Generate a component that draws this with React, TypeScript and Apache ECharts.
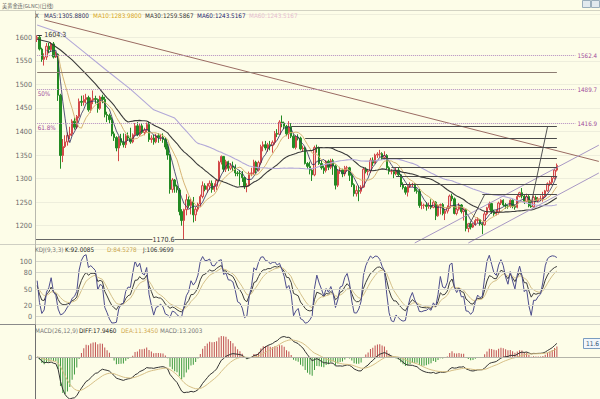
import React, { useEffect, useRef } from "react";
import * as echarts from "echarts";

// Daily candles [open, close, low, high]
const ohlc: number[][] = [
  // Apr
  [1597,1600,1590,1604.3],[1600,1575,1572,1603],[1575,1553,1548,1578],[1553,1558,1540,1566],[1558,1581,1552,1588],
  [1581,1574,1566,1588],[1574,1586,1570,1590],[1586,1558,1555,1590],[1558,1564,1556,1570],[1564,1477,1465,1566],
  [1477,1349,1321,1480],[1349,1368,1335,1384],[1368,1378,1365,1392],[1378,1392,1370,1398],[1392,1395,1384,1410],
  [1395,1422,1390,1426],[1422,1409,1404,1430],[1409,1432,1405,1435],[1432,1464,1428,1470],[1464,1462,1454,1476],
  [1462,1468,1455,1477],[1468,1472,1460,1480],
  // May
  [1472,1446,1442,1476],[1446,1467,1440,1472],[1467,1470,1458,1487],[1470,1468,1459,1476],[1468,1449,1440,1470],
  [1449,1473,1446,1476],[1473,1468,1460,1478],[1468,1436,1430,1474],[1436,1434,1420,1442],[1434,1425,1418,1438],
  [1425,1395,1390,1430],[1395,1387,1380,1400],[1387,1365,1358,1390],[1365,1385,1337,1390],[1385,1377,1370,1395],
  [1377,1372,1366,1396],[1372,1391,1365,1395],[1391,1386,1380,1398],[1386,1378,1374,1408],[1378,1393,1375,1396],
  [1393,1412,1390,1418],[1412,1393,1390,1420],
  // Jun
  [1393,1412,1390,1416],[1412,1398,1395,1418],[1398,1403,1392,1408],[1403,1415,1398,1419],[1415,1383,1378,1421],
  [1383,1386,1376,1392],[1386,1378,1372,1393],[1378,1391,1375,1395],[1391,1387,1376,1396],[1387,1388,1380,1394],
  [1388,1383,1376,1396],[1383,1367,1362,1388],[1367,1350,1340,1374],[1350,1277,1268,1352],[1277,1297,1270,1301],
  [1297,1284,1270,1299],[1284,1276,1270,1287],[1276,1230,1222,1280],[1230,1211,1200,1235],[1211,1234,1170.6,1236],
  // Jul
  [1234,1255,1222,1267],[1255,1243,1238,1262],[1243,1251,1224,1258],[1251,1223,1207,1261],[1223,1235,1210,1240],
  [1235,1246,1230,1249],[1246,1262,1240,1266],[1262,1285,1258,1294],[1285,1277,1273,1290],[1277,1284,1270,1290],
  [1284,1290,1276,1296],[1290,1277,1270,1296],[1277,1284,1272,1290],[1284,1296,1276,1299],[1296,1335,1294,1338],
  [1335,1347,1330,1349],[1347,1320,1314,1348],[1320,1336,1314,1340],[1336,1322,1316,1338],[1322,1327,1318,1333],
  [1327,1324,1316,1336],[1324,1312,1305,1330],
  // Aug
  [1312,1311,1305,1316],[1311,1310,1285,1317],[1310,1302,1293,1316],[1302,1283,1278,1304],[1283,1285,1271,1290],
  [1285,1311,1283,1315],[1311,1312,1305,1323],[1312,1335,1308,1340],[1335,1318,1311,1338],[1318,1334,1315,1338],
  [1334,1368,1330,1372],[1368,1372,1358,1379],[1372,1365,1360,1380],[1365,1372,1357,1376],[1372,1370,1360,1380],
  [1370,1377,1355,1381],[1377,1396,1372,1401],[1396,1394,1388,1405],[1394,1420,1393,1424],[1420,1418,1409,1434],
  [1418,1411,1405,1421],[1411,1395,1390,1414],
  // Sep
  [1395,1410,1384,1422],[1410,1390,1386,1418],[1390,1366,1364,1394],[1366,1388,1362,1392],[1388,1386,1381,1394],
  [1386,1363,1360,1389],[1363,1365,1358,1370],[1365,1332,1330,1368],[1332,1326,1321,1335],[1326,1318,1309,1336],
  [1318,1308,1295,1320],[1308,1366,1305,1370],[1366,1365,1355,1372],[1365,1332,1329,1368],[1332,1323,1319,1338],
  [1323,1317,1310,1328],[1317,1337,1313,1339],[1337,1324,1318,1340],[1324,1338,1320,1342],[1338,1327,1308,1342],
  // Oct
  [1327,1286,1277,1330],[1286,1316,1282,1320],[1316,1318,1310,1325],[1318,1310,1303,1321],[1310,1323,1305,1327],
  [1323,1323,1315,1327],[1323,1307,1295,1325],[1307,1287,1282,1310],[1287,1268,1262,1290],[1268,1275,1262,1285],
  [1275,1273,1252,1285],[1273,1282,1268,1286],[1282,1320,1280,1324],[1320,1315,1311,1324],[1315,1316,1307,1320],
  [1316,1339,1312,1344],[1339,1333,1327,1345],[1333,1350,1332,1353],[1350,1352,1344,1356],[1352,1353,1346,1361],
  [1353,1345,1340,1356],[1345,1349,1340,1358],[1349,1323,1320,1352],
  // Nov
  [1323,1315,1309,1326],[1315,1315,1309,1320],[1315,1310,1301,1318],[1310,1318,1307,1323],[1318,1308,1304,1324],
  [1308,1287,1282,1310],[1287,1281,1277,1292],[1281,1271,1266,1284],[1271,1283,1262,1286],[1283,1287,1280,1292],
  [1287,1288,1282,1291],[1288,1274,1272,1290],[1274,1273,1268,1279],[1273,1243,1238,1278],[1243,1243,1235,1251],
  [1243,1244,1236,1247],[1244,1241,1232,1250],[1241,1243,1236,1249],[1243,1239,1235,1256],[1239,1250,1237,1254],
  // Dec
  [1250,1221,1212,1252],[1221,1243,1219,1245],[1243,1245,1224,1247],[1245,1226,1222,1248],[1226,1231,1212,1236],
  [1231,1238,1226,1243],[1238,1263,1236,1266],[1263,1257,1252,1268],[1257,1226,1224,1260],[1226,1235,1222,1241],
  [1235,1244,1232,1248],[1244,1230,1226,1246],[1230,1235,1211,1237],[1235,1194,1188,1236],[1194,1204,1186,1206],
  [1204,1197,1192,1209],[1197,1202,1195,1206],[1202,1211,1200,1215],[1211,1213,1206,1218],[1213,1204,1200,1214],
  [1204,1202,1182,1206],
  // Jan
  [1202,1225,1200,1230],[1225,1238,1222,1240],[1238,1247,1233,1251],[1247,1230,1225,1248],[1230,1225,1221,1234],
  [1225,1229,1222,1234],[1229,1248,1224,1251],[1248,1254,1244,1256],[1254,1244,1241,1256],[1244,1242,1236,1248],
  [1242,1241,1236,1244],[1241,1254,1238,1256],[1254,1241,1237,1256],[1241,1239,1234,1245],[1239,1262,1237,1266],
  [1262,1270,1260,1272],[1270,1263,1258,1280],[1263,1251,1246,1265],[1251,1262,1250,1268],[1262,1242,1239,1265],
  [1242,1240,1238,1255],
  // Feb
  [1240,1260,1238,1264],[1260,1253,1250,1264],[1253,1257,1250,1261],[1257,1257,1252,1264],[1257,1262,1251,1272],
  [1262,1274,1260,1276],[1274,1289,1272,1292],[1289,1292,1284,1296],[1292,1301,1286,1304],[1301,1318,1298,1321],
  [1318,1328,1315,1332],
];

const TOTAL_SLOTS = 242;

// early part of slow averages: [index, value]
const ma30Lead: number[][] = [[0,1596],[5,1590],[10,1573],[15,1552],[20,1527],[25,1501]];
const ma60Lead: number[][] = [[0,1626],[10,1609],[20,1569],[30,1529],[40,1490],[50,1446]];

const fibLevels = [1562.4, 1489.7, 1416.9];
const fibNames = ["", "50%", "61.8%"];
const highLabel = 1604.3;
const lowLabel = 1170.6;
const baseLevel = 1525.7;
// horizontal levels: [start index, price]
const levelLines: number[][] = [[109,1412],[115,1385.6],[125,1366.4],[148,1343],[152,1325],[154,1306],[156,1288],[191,1267]];
// trend lines: [x1, y1, x2, y2]
const trendDown: number[] = [3, 1637, 241, 1336.5];
const channelUp: number[] = [162, 1163.3, 241, 1371];
const channelLow: number[] = [185, 1163.3, 241, 1311.9];
const steepA: number[] = [212, 1247.5, 219, 1410];
const steepB: number[] = [185, 1198, 192, 1266];

const maLegend = [
  { t: "X", x: 35, c: "#333333" },
  { t: "MA5:1305.8800", x: 44, c: "#2b2b60" },
  { t: "MA10:1283.9800", x: 93, c: "#d9a520" },
  { t: "MA30:1259.5867", x: 145, c: "#333333" },
  { t: "MA60:1243.5167", x: 197, c: "#23236e" },
  { t: "MA60:1243.5167", x: 249, c: "#e6bccf" },
];
const kdjLegend = [
  { t: "KDJ(9,3,3)", x: 35, c: "#777777" },
  { t: "K:92.0085", x: 65, c: "#222222" },
  { t: "D:84.5278", x: 107, c: "#caa64e" },
  { t: "J:106.9699", x: 143, c: "#333333" },
];
const macdLegend = [
  { t: "MACD(26,12,9)", x: 35, c: "#777777" },
  { t: "DIFF:17.9460", x: 79, c: "#222222" },
  { t: "DEA:11.3450", x: 121, c: "#d0a850" },
  { t: "MACD:13.2003", x: 160, c: "#777777" },
];

const BG = "#fdfde8";
const FONT = '"Liberation Sans Narrow", "DejaVu Sans Condensed", sans-serif';
const SMALL = 6.3;

function sma(closes: number[], n: number): (number | null)[] {
  return closes.map((_, i) => {
    if (i < n - 1) return null;
    let s = 0;
    for (let k = i - n + 1; k <= i; k++) s += closes[k];
    return s / n;
  });
}

export default function App() {
  const ref = useRef<HTMLDivElement>(null);
  useEffect(() => {
    if (!ref.current) return;
    const chart = echarts.init(ref.current, undefined, { renderer: "svg" });
    const closes = ohlc.map((r) => r[1]);
    const cats = Array.from({ length: TOTAL_SLOTS }, (_, i) => String(i));
    const ma5 = sma(closes, 5);
    const ma10 = sma(closes, 10);
    const ma30 = sma(closes, 30);
    const ma60 = sma(closes, 60);
    ma30Lead.forEach(([i, v]) => (ma30[i] = v));
    ma60Lead.forEach(([i, v]) => (ma60[i] = v));

    // KDJ(9,3,3)
    const K: number[] = [], D: number[] = [], J: number[] = [];
    let k = 50, d = 50;
    ohlc.forEach((r, i) => {
      let lo = Infinity, hi = -Infinity;
      for (let q = Math.max(0, i - 8); q <= i; q++) {
        lo = Math.min(lo, ohlc[q][2]);
        hi = Math.max(hi, ohlc[q][3]);
      }
      const rsv = hi === lo ? 50 : ((r[1] - lo) / (hi - lo)) * 100;
      k = (2 * k + rsv) / 3;
      d = (2 * d + k) / 3;
      K.push(k); D.push(d); J.push(3 * k - 2 * d);
    });
    // MACD(26,12,9)
    const DIF: number[] = [], DEA: number[] = [], HIST: number[] = [];
    let e12 = closes[0], e26 = closes[0], dea = 0;
    closes.forEach((c) => {
      e12 = (e12 * 11 + c * 2) / 13;
      e26 = (e26 * 25 + c * 2) / 27;
      const dif = e12 - e26;
      dea = (dea * 8 + dif * 2) / 10;
      DIF.push(dif); DEA.push(dea); HIST.push(2 * (dif - dea));
    });

    const seg = (a: number[], color: string, name: string) => ({
      type: "line", name, xAxisIndex: 0, yAxisIndex: 0, symbol: "none",
      data: [[a[0], a[1]], [a[2], a[3]]],
      lineStyle: { color, width: 1 }, silent: true, z: 4,
    });

    const lastIdx = ohlc.length - 1;
    const noLine = { symbol: ["none", "none"], silent: true, label: { show: false } };

    const txt = (t: string, x: number, y: number, c: string, size = SMALL, fam = FONT) => ({
      type: "text", x, y, z: 100, silent: true,
      style: { text: t, fill: c, fontSize: size, fontFamily: fam, verticalAlign: "middle", align: "left" },
    });
    const ln = (x1: number, y1: number, x2: number, y2: number, c: string) => ({
      type: "line", z: 90, silent: true, shape: { x1, y1, x2, y2 }, style: { stroke: c, lineWidth: 1 },
    });

    const graphic: any[] = [
      ln(0, 10.5, 600, 10.5, "#d2d2c2"),
      ln(0, 244.5, 600, 244.5, "#cfcfc3"),
      ln(0, 324.5, 600, 324.5, "#d6d6ca"),
      ln(0, 324.5, 35.5, 324.5, "#8a8a8a"),
      ln(35.5, 10.5, 35.5, 324.5, "#b8b8ae"),
      ln(35.5, 324.5, 35.5, 399, "#707070"),
      txt("美黄金连(GLNC)(日线)", 2, 5, "#666666", 5.2, '"Noto Sans CJK SC", sans-serif'),
      { type: "rect", z: 100, shape: { x: 582.5, y: 0.5, width: 8, height: 7 }, style: { fill: "#e2eaee", stroke: "#9aaebb" } },
      { type: "rect", z: 100, shape: { x: 591.5, y: 0.5, width: 8, height: 7 }, style: { fill: "#e2eaee", stroke: "#9aaebb" } },
      { type: "rect", z: 100, shape: { x: 583.5, y: 338.5, width: 20, height: 10 }, style: { fill: "#f2f6fa", stroke: "#7a9cc0" } },
      txt("11.6", 586, 343.5, "#335577", 6.5),
      ...maLegend.map((m) => txt(m.t, m.x, 15.5, m.c)),
      ...kdjLegend.map((m) => txt(m.t, m.x, 249.5, m.c)),
      ...macdLegend.map((m) => txt(m.t, m.x, 330, m.c)),
    ];

    const axisLabelBase = { fontSize: 7.2, color: "#6a6a6a", fontFamily: FONT, margin: 4 };

    chart.setOption({
      animation: false,
      backgroundColor: BG,
      graphic,
      grid: [
        { left: 36, right: 0, top: 13.75, height: 235.5 },
        { left: 36, right: 0, top: 250.7, height: 74.25 },
        { left: 36, right: 0, top: 336, height: 63 },
      ],
      xAxis: [0, 1, 2].map((g) => ({
        type: "category", gridIndex: g, data: cats, boundaryGap: true, show: false,
      })),
      yAxis: [
        {
          type: "value", gridIndex: 0, min: 1150, max: 1650, interval: 50,
          axisLine: { show: false }, axisTick: { show: false },
          splitLine: { show: true, lineStyle: { color: "#eeeedc", width: 1 } },
          axisLabel: { ...axisLabelBase, formatter: (v: number) => (v <= 1150 || v >= 1650 ? "" : String(v)) },
        },
        {
          type: "value", gridIndex: 1, min: -15, max: 120, interval: 5,
          axisLine: { show: false }, axisTick: { show: false }, splitLine: { show: false },
          axisLabel: { ...axisLabelBase, formatter: (v: number) => ([0, 20, 50, 80, 100].includes(v) ? String(v) : "") },
        },
        {
          type: "value", gridIndex: 2, min: -55, max: 27.5, interval: 27.5,
          axisLine: { show: false }, axisTick: { show: false }, splitLine: { show: false },
          axisLabel: { ...axisLabelBase, formatter: (v: number) => (v === 0 ? "0" : "") },
        },
      ],
      series: [
        {
          type: "candlestick", name: "K", xAxisIndex: 0, yAxisIndex: 0, data: ohlc,
          barWidth: "80%", barMaxWidth: 2,
          itemStyle: { color: "#f6d2d2", borderColor: "#d24848", color0: "#238a23", borderColor0: "#238a23", borderWidth: 1 },
          markLine: {
            ...noLine,
            data: [
              ...fibLevels.map((v) => [
                { coord: [0, v], lineStyle: { color: "#b48cc0", type: "dotted", width: 1 },
                  label: { show: true, position: "end", distance: 2, formatter: v.toFixed(1), color: "#a04a9a", fontSize: 6.2, fontFamily: FONT } },
                { coord: [231, v] },
              ]),
              [{ coord: [0, baseLevel], lineStyle: { color: "#8c7c72", type: "solid", width: 1.2 } }, { coord: [lastIdx, baseLevel] }],
              [{ coord: [0, highLabel], lineStyle: { color: "#333", type: "solid", width: 1 } }, { coord: [2, highLabel] }],
              { yAxis: lowLabel, lineStyle: { color: "#666", type: "solid", width: 1 } },
              ...levelLines.map(([s, v]) => [
                { coord: [s, v], lineStyle: { color: "#4a4a4a", type: "solid", width: 1 } },
                { coord: [lastIdx, v] },
              ]),
            ],
          },
          markPoint: {
            silent: true,
            symbol: "circle", symbolSize: 1, itemStyle: { color: "rgba(0,0,0,0)" },
            data: [
              { coord: [2, highLabel], label: { show: true, position: "right", distance: 2, formatter: highLabel.toFixed(1), color: "#333", fontSize: 7, fontFamily: FONT } },
              { coord: [63, lowLabel], label: { show: true, position: "left", distance: 9, formatter: lowLabel.toFixed(1), color: "#333", fontSize: 7, fontFamily: FONT, backgroundColor: BG } },
              ...fibLevels.map((v, i) => ({
                coord: [0, v],
                label: { show: fibNames[i] !== "", position: "right", distance: 0, offset: [0, 4], formatter: fibNames[i], color: "#a04a9a", fontSize: 6.3, fontFamily: FONT },
              })),
            ],
          },
        },
        { type: "line", name: "MA5", xAxisIndex: 0, yAxisIndex: 0, data: ma5, symbol: "none", lineStyle: { color: "#2b2b60", width: 0.8 }, z: 3 },
        { type: "line", name: "MA10", xAxisIndex: 0, yAxisIndex: 0, data: ma10, symbol: "none", lineStyle: { color: "#d6b474", width: 1 }, z: 3 },
        { type: "line", name: "MA30", xAxisIndex: 0, yAxisIndex: 0, data: ma30, connectNulls: true, symbol: "none", lineStyle: { color: "#3a3a3a", width: 1.1 }, z: 3 },
        { type: "line", name: "MA60", xAxisIndex: 0, yAxisIndex: 0, data: ma60, connectNulls: true, symbol: "none", lineStyle: { color: "#b2a8d8", width: 1.1 }, z: 3 },
        seg(trendDown, "#9a6b62", "t1"),
        seg(channelUp, "#a898c4", "t2"),
        seg(channelLow, "#a898c4", "t3"),
        seg(steepA, "#555555", "t4"),
        seg(steepB, "#555555", "t5"),
        {
          type: "line", name: "KDJ-K", xAxisIndex: 1, yAxisIndex: 1, data: K, symbol: "none",
          lineStyle: { color: "#3c3c3c", width: 1 }, z: 3,
          markLine: {
            ...noLine, lineStyle: { color: "#d8d8cc", type: "solid", width: 1 },
            data: [0, 20, 50, 80, 100].map((v) => ({ yAxis: v })),
          },
        },
        { type: "line", name: "KDJ-D", xAxisIndex: 1, yAxisIndex: 1, data: D, symbol: "none", lineStyle: { color: "#d4c08a", width: 1 }, z: 3 },
        { type: "line", name: "KDJ-J", xAxisIndex: 1, yAxisIndex: 1, data: J, symbol: "none", lineStyle: { color: "#4c4c8c", width: 1 }, z: 3 },
        {
          type: "bar", name: "MACD", xAxisIndex: 2, yAxisIndex: 2, data: HIST, barWidth: 1,
          itemStyle: { color: (p: any) => (p.value >= 0 ? "#c05050" : "#3e9a3e") },
          markLine: { ...noLine, lineStyle: { color: "#b4b4aa", type: "solid", width: 1 }, data: [{ yAxis: 0 }] },
        },
        { type: "line", name: "DIFF", xAxisIndex: 2, yAxisIndex: 2, data: DIF, symbol: "none", lineStyle: { color: "#333333", width: 1 }, z: 3 },
        { type: "line", name: "DEA", xAxisIndex: 2, yAxisIndex: 2, data: DEA, symbol: "none", lineStyle: { color: "#d6bf86", width: 1 }, z: 3 },
      ],
    });
    return () => chart.dispose();
  }, []);
  return <div ref={ref} style={{ position: "absolute", left: 0, top: 0, width: 600, height: 399 }} />;
}
